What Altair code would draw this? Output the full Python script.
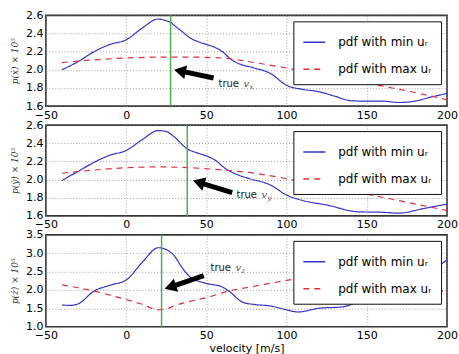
import altair as alt
import pandas as pd

# ---------------- data ----------------
SER_MIN = "pdf with min uᵣ"
SER_MAX = "pdf with max uᵣ"

x_ticks = [-50, 0, 50, 100, 150, 200]

# panel 1 (x velocity)
p1_min_x = [-40, -30, -20, -10, 0, 10, 20, 25, 28, 30, 35, 40, 45, 50, 55, 60, 65, 70, 80, 90, 100, 110, 120, 130, 140, 150, 160, 170, 180, 190, 200]
p1_min_y = [2.0, 2.09, 2.2, 2.28, 2.33, 2.46, 2.56, 2.54, 2.52, 2.49, 2.42, 2.35, 2.31, 2.28, 2.25, 2.2, 2.12, 2.07, 2.02, 1.96, 1.83, 1.785, 1.76, 1.71, 1.66, 1.655, 1.655, 1.64, 1.655, 1.70, 1.74]
p1_max_x = [-40, -20, 0, 20, 40, 60, 80, 100, 120, 140, 160, 180, 200]
p1_max_y = [2.08, 2.11, 2.13, 2.14, 2.14, 2.13, 2.08, 2.02, 1.95, 1.89, 1.82, 1.75, 1.67]
p1_true = [27.7]
p1_yticks = [1.6, 1.8, 2.0, 2.2, 2.4, 2.6]

# panel 2 (y velocity)
p2_min_x = [-40, -30, -20, -10, 0, 10, 20, 25, 30, 38, 45, 50, 55, 62, 70, 77, 90, 100, 110, 125, 145, 160, 170, 185, 200]
p2_min_y = [1.99, 2.09, 2.19, 2.27, 2.32, 2.44, 2.54, 2.53, 2.47, 2.34, 2.29, 2.26, 2.22, 2.12, 2.05, 2.01, 1.94, 1.83, 1.77, 1.72, 1.645, 1.64, 1.63, 1.68, 1.73]
p2_max_x = [-40, 0, 20, 40, 64, 80, 100, 120, 150, 175, 200]
p2_max_y = [2.07, 2.13, 2.14, 2.13, 2.10, 2.07, 2.01, 1.94, 1.84, 1.75, 1.66]
p2_true = [38.1]
p2_yticks = [1.6, 1.8, 2.0, 2.2, 2.4, 2.6]

# panel 3 (z velocity)
p3_min_x = [-40, -35, -30, -20, -10, 0, 10, 20, 25, 30, 35, 40, 50, 60, 64, 73, 81, 89, 100, 107, 120, 135, 150, 170, 180, 190, 200]
p3_min_y = [1.59, 1.58, 1.62, 1.97, 2.13, 2.27, 2.75, 3.15, 3.1, 2.93, 2.6, 2.35, 2.18, 2.08, 1.97, 1.66, 1.6, 1.57, 1.46, 1.40, 1.50, 1.54, 1.79, 2.05, 2.2, 2.5, 2.82]
p3_max_x = [-40, -30, -20, -10, 0, 10, 20, 25, 30, 40, 50, 64, 80, 100, 120, 140, 160, 180, 190, 200]
p3_max_y = [2.14, 2.06, 1.97, 1.86, 1.74, 1.61, 1.46, 1.48, 1.57, 1.69, 1.79, 1.97, 2.1, 2.26, 2.38, 2.42, 2.3, 2.1, 2.02, 1.95]
p3_true = [22.1]
p3_yticks = [1.0, 1.5, 2.0, 2.5, 3.0, 3.5]

# arrows: head centre (x, y), tail (x2, y2), head angle ; label anchor
p1_arrow = dict(x=[33.5], y=[1.988], x2=[54.5], y2=[1.91], ang=12, tx=[57.6], ty=[1.84], sub="x")
p2_arrow = dict(x=[45.2], y=[1.970], x2=[66.1], y2=[1.857], ang=17, tx=[68.8], ty=[1.83], sub="y")
p3_arrow = dict(x=[27.55], y=[2.08], x2=[48.4], y2=[2.39], ang=342, tx=[52.6], ty=[2.61], sub="z")

BLUE = "#3434c8"
RED = "#e0303e"
GREEN = "#55aa55"

W = 402


def panel(min_x, min_y, max_x, max_y, true_v, ydom, yticks, ytitle, arrow, xtitle, h):
    df = pd.DataFrame(
        {"v": min_x + max_x,
         "p": min_y + max_y,
         "series": [SER_MIN] * len(min_x) + [SER_MAX] * len(max_x)}
    )
    xenc = alt.X("v:Q", scale=alt.Scale(domain=[-50, 200], nice=False, zero=False),
                 axis=alt.Axis(values=x_ticks, title=xtitle if xtitle else None, format="d",
                               labelOverlap=False, tickCount=20))
    yenc = alt.Y("p:Q", scale=alt.Scale(domain=ydom, nice=False, zero=False),
                 axis=alt.Axis(values=yticks, format=".1f", title=ytitle, labelOverlap=False,
                               tickCount=20))
    leg = alt.Legend(title=None, orient="none", legendX=248, legendY=6,
                     symbolType="stroke", symbolSize=484, symbolStrokeWidth=1.4,
                     labelFont="DejaVu Sans", labelFontSize=12, labelColor="#000",
                     labelLimit=0, labelOffset=12, padding=9, rowPadding=9,
                     fillColor="white", strokeColor="#111", cornerRadius=0)
    lines = alt.Chart(df).mark_line(strokeWidth=1.2, clip=True, interpolate="monotone").encode(
        x=xenc, y=yenc,
        color=alt.Color("series:N", scale=alt.Scale(domain=[SER_MIN, SER_MAX], range=[BLUE, RED]), legend=leg),
        strokeDash=alt.StrokeDash("series:N", scale=alt.Scale(domain=[SER_MIN, SER_MAX], range=[[1, 0], [6, 5]]), legend=leg),
    )
    vdf = pd.DataFrame({"v": true_v})
    vline = alt.Chart(vdf).mark_rule(color=GREEN, strokeWidth=1.5).encode(x="v:Q")
    adf = pd.DataFrame({"v": arrow["x"], "p": arrow["y"], "v2": arrow["x2"], "p2": arrow["y2"]})
    shaft = alt.Chart(adf).mark_rule(color="black", strokeWidth=5).encode(
        x="v:Q", y="p:Q", x2="v2:Q", y2="p2:Q")
    head = alt.Chart(adf).mark_point(shape="triangle-left", filled=True, color="black",
                                     opacity=1, size=190, angle=arrow["ang"]).encode(x="v:Q", y="p:Q")
    tdf = pd.DataFrame({"v": arrow["tx"], "p": arrow["ty"]})
    t1 = alt.Chart(tdf).mark_text(text="true", align="left", baseline="middle", font="DejaVu Sans",
                                  fontSize=10, color="#222").encode(x="v:Q", y="p:Q")
    t2 = alt.Chart(tdf).mark_text(text="v", align="left", baseline="middle", font="DejaVu Serif",
                                  fontStyle="italic", fontSize=10, color="#555", dx=25).encode(x="v:Q", y="p:Q")
    t3 = alt.Chart(tdf).mark_text(text=arrow["sub"], align="left", baseline="middle", font="DejaVu Serif",
                                  fontStyle="italic", fontSize=7, color="#555", dx=31, dy=3).encode(x="v:Q", y="p:Q")
    return alt.layer(lines, vline, shaft, head, t1, t2, t3).properties(width=W, height=h)


c1 = panel(p1_min_x, p1_min_y, p1_max_x, p1_max_y, p1_true, [1.6, 2.6], p1_yticks, "p(ẋ) × 10⁵", p1_arrow, None, 91)
c2 = panel(p2_min_x, p2_min_y, p2_max_x, p2_max_y, p2_true, [1.6, 2.6], p2_yticks, "p(ẏ) × 10⁵", p2_arrow, None, 91)
c3 = panel(p3_min_x, p3_min_y, p3_max_x, p3_max_y, p3_true, [1.0, 3.5], p3_yticks, "p(ż) × 10⁵", p3_arrow, "velocity [m/s]", 92)

chart = alt.vconcat(c1, c2, c3, spacing=19, bounds="flush").resolve_scale(
    color="independent", strokeDash="independent", y="independent", x="independent"
).resolve_legend(color="independent", strokeDash="independent").properties(
    padding={"left": 9, "top": 8, "right": 0, "bottom": 0}
).configure(font="DejaVu Sans").configure_view(
    stroke="#333", strokeWidth=1.6
).configure_axis(
    domain=False, ticks=False, grid=True, gridColor="#888", gridDash=[1, 2], gridWidth=0.8,
    labelFont="DejaVu Sans", labelFontSize=11, labelColor="#000", labelPadding=3,
    titleFont="DejaVu Serif", titleFontStyle="italic", titleFontWeight="normal",
    titleFontSize=9, titleColor="#333", titlePadding=6, labelOverlap=False, labelFlush=False
).configure_axisX(
    titleFont="DejaVu Sans", titleFontStyle="normal", titleFontSize=11, titleColor="#000", titlePadding=2
)

chart.save("out.html", embed_options={"renderer": "svg", "actions": False})
